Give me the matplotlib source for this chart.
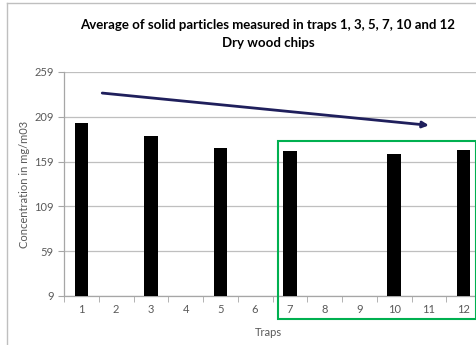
import numpy as np
import matplotlib.pyplot as plt
from matplotlib.patches import Rectangle

# data
traps = [1, 2, 3, 4, 5, 6, 7, 8, 9, 10, 11, 12]
concentration = [202.5, 0, 187.5, 0, 174, 0, 171, 0, 0, 167.5, 0, 172]
y_ticks = [9, 59, 109, 159, 209, 259]
trend_x = [1.6, 11.0]
trend_y = [235.5, 199.5]

plt.rcParams['font.family'] = ['Lato', 'DejaVu Sans']
grey = '#595959'

fig = plt.figure(figsize=(4.77, 3.45), dpi=100)
W, H = 477, 345
# plot area in pixels: left 64, right 481, top 72, bottom 296
ax = fig.add_axes([64 / W, 1 - 296 / H, 417 / W, 224 / H])

x = np.arange(1, len(traps) + 1)
ax.bar(x, concentration, width=0.39, color='black', zorder=3)

ax.set_xlim(0.5, 12.5)
ax.set_ylim(9, 259)
ax.set_yticks(y_ticks)
ax.set_xticks(x)
ax.set_xticklabels([str(t) for t in traps])
ax.set_xticks(np.arange(0.5, 12.6, 1), minor=True)
ax.tick_params(axis='x', which='major', length=0, labelsize=8, labelcolor=grey, pad=6)
ax.tick_params(axis='x', which='minor', length=4, color='#A6A6A6', direction='out')
ax.tick_params(axis='y', length=4, color='#A6A6A6', labelsize=8, labelcolor=grey)
ax.grid(axis='y', color='#BFBFBF', linewidth=0.9, zorder=0)
for s in ['top', 'right']:
    ax.spines[s].set_visible(False)
for s in ['left', 'bottom']:
    ax.spines[s].set_color('#A6A6A6')
    ax.spines[s].set_linewidth(0.9)

ax.set_ylabel('Concentration in mg/m03', fontsize=8, color=grey)
ax.yaxis.set_label_coords((30 - 64) / 417, 0.5)
ax.set_xlabel('Traps', fontsize=8, color=grey)
ax.xaxis.set_label_coords(0.49, -(327 - 296) / 224)

# trend arrow
ax.annotate('', xy=(trend_x[1], trend_y[1]), xytext=(trend_x[0], trend_y[0]),
            arrowprops=dict(arrowstyle='-|>', color='#1F1F5C', lw=2,
                            mutation_scale=9, shrinkA=0, shrinkB=0),
            zorder=5)

# green highlight box
ax.add_patch(Rectangle((6.66, -16.3), 12.37 - 6.66, 181.8 + 16.3, fill=False,
                       edgecolor='#00B050', linewidth=1.5, clip_on=False, zorder=6))

fig.text(268 / W, 1 - 25 / H, 'Average of solid particles measured in traps 1, 3, 5, 7, 10 and 12',
         ha='center', va='center', fontsize=9.5, fontweight='bold')
fig.text(268 / W, 1 - 43 / H, 'Dry wood chips', ha='center', va='center',
         fontsize=9.5, fontweight='bold')

# outer chart frame (left and top visible)
fig.add_artist(plt.Line2D([7 / W, 7 / W], [0, 1 - 3 / H], color='#BFBFBF', lw=1))
fig.add_artist(plt.Line2D([7 / W, 1], [1 - 3 / H, 1 - 3 / H], color='#BFBFBF', lw=1))

fig.savefig('out.png', dpi=100)
